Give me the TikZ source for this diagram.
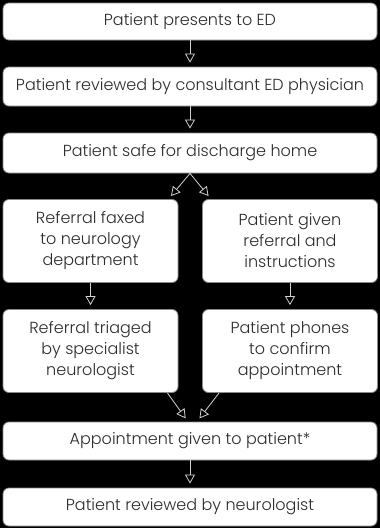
\documentclass[tikz,border=0pt]{standalone}
\usepackage{fontspec}
\setmainfont{Poppins}[UprightFont=* Light]
\usetikzlibrary{arrows.meta}

\begin{document}
\begin{tikzpicture}[x=1pt,y=-1pt,font=\fontsize{16}{21}\selectfont]
  \definecolor{rim}{HTML}{8A8A8A}
  \definecolor{ink}{HTML}{2B2B2B}
  \definecolor{link}{HTML}{D2D2D2}
  \fill[black] (0,0) rectangle (380,528);

  \tikzset{stage/.style={draw=rim,fill=white,text=ink,rounded corners=6pt,
             line width=.8pt,align=center,inner sep=2pt,minimum width=374pt},
           half/.style={stage,minimum width=175pt,minimum height=83pt},
           flow/.style={draw=link,line width=.8pt,shorten >=4pt,
             -{Triangle[open,length=9pt,width=10pt]}}}

  \node[stage,minimum height=37pt] (presents) at (190,21.5) {Patient presents to ED};
  \node[stage,minimum height=39pt] (reviewed) at (190,86.5) {Patient reviewed by consultant ED physician};
  \node[stage,minimum height=40pt] (safe) at (190,153) {Patient safe for discharge home};

  \node[half] (faxed) at (90.5,241) {Referral faxed\\to neurology\\department};
  \node[half] (given) at (290,241) {Patient given\\referral and\\instructions};
  \node[half] (triaged) at (90.5,351) {Referral triaged\\by specialist\\neurologist};
  \node[half] (phones) at (290,351) {Patient phones\\to confirm\\appointment};

  \node[stage,minimum height=38pt] (appt) at (190,441) {Appointment given to patient*};
  \node[stage,minimum height=38pt] (neuro) at (190,507) {Patient reviewed by neurologist};

  % Two routes out of the discharge decision, joining again at the appointment.
  \draw[flow] (presents) -- (reviewed);
  \draw[flow] (reviewed) -- (safe);
  \draw[flow] (safe.south) -- ([xshift=-10pt]faxed.north east);
  \draw[flow] (safe.south) -- ([xshift=9pt]given.north west);
  \draw[flow] (faxed) -- (triaged);
  \draw[flow] (given) -- (phones);
  \draw[flow] ([xshift=-11pt]triaged.south east) -- ([xshift=-2pt]appt.north);
  \draw[flow] ([xshift=17pt]phones.south west) -- ([xshift=7pt]appt.north);
  \draw[flow] (appt) -- (neuro);
\end{tikzpicture}
\end{document}
